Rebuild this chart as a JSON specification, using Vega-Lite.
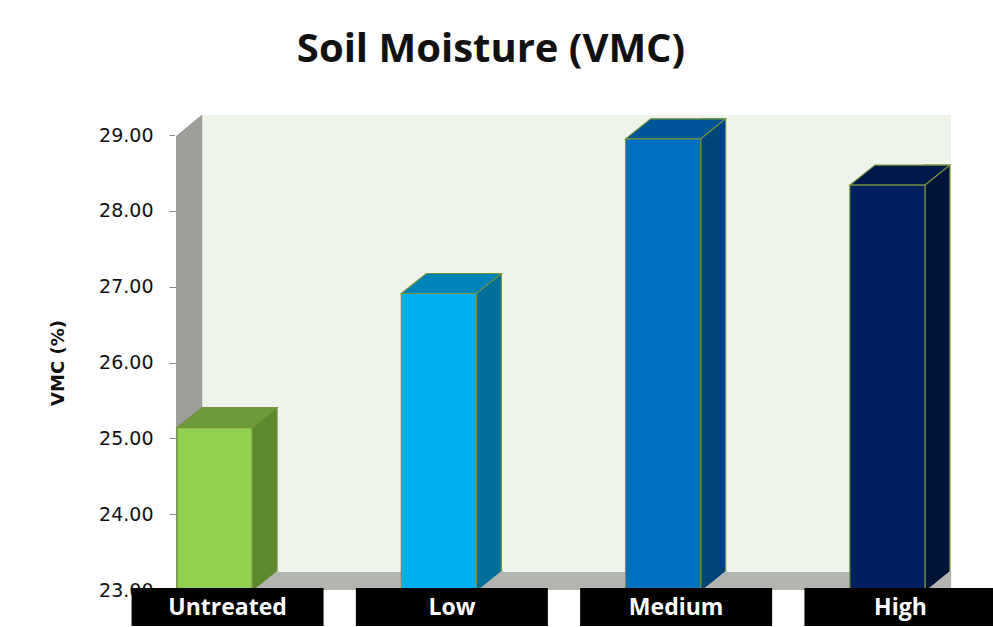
{
  "$schema": "https://vega.github.io/schema/vega-lite/v6.json",
  "autosize": "none",
  "width": 748,
  "height": 455,
  "padding": {"left": 177, "top": 135, "right": 68, "bottom": 37},
  "background": "white",
  "config": {"view": {"stroke": null}},
  "title": {
    "text": "Soil Moisture (VMC)",
    "font": "Open Sans",
    "fontSize": 40,
    "fontWeight": "bold",
    "color": "#111111",
    "anchor": "middle",
    "frame": "group",
    "dx": -60,
    "offset": 44
  },
  "data": {
    "values": [
      {"category": "Untreated", "value": 25.14},
      {"category": "Low", "value": 26.91},
      {"category": "Medium", "value": 28.95},
      {"category": "High", "value": 28.34}
    ]
  },
  "encoding": {
    "x": {
      "field": "category",
      "type": "nominal",
      "sort": ["Untreated", "Low", "Medium", "High"],
      "scale": {"paddingInner": 0.665, "paddingOuter": 0},
      "axis": null
    }
  },
  "layer": [
    {
      "mark": {"type": "rect", "color": "#b3b5b0", "yOffset": -20, "x2Offset": 25},
      "encoding": {
        "x": null,
        "y": {"datum": 29, "type": "quantitative"},
        "y2": {"datum": 23}
      }
    },
    {
      "mark": {"type": "rect", "color": "#eef4ea", "xOffset": 26, "x2Offset": 25, "yOffset": -20, "y2Offset": -18},
      "encoding": {
        "x": null,
        "y": {"datum": 29, "type": "quantitative"},
        "y2": {"datum": 23}
      }
    },
    {
      "mark": {"type": "bar", "color": "#9c9e9a", "width": 26, "xOffset": -25.5, "yOffset": -20},
      "encoding": {
        "x": {"datum": "Untreated"},
        "y": {"datum": 29, "type": "quantitative"},
        "y2": {"datum": 23}
      }
    },
    {
      "mark": {"type": "point", "filled": true, "opacity": 1, "color": "white", "shape": "M-0.05 0.05 L-0.05 -0.85 L1.04 -0.85 Z", "size": 2500, "xOffset": -38},
      "encoding": {
        "x": {"datum": "Untreated"},
        "y": {"datum": 29, "type": "quantitative"}
      }
    },
    {
      "mark": {"type": "point", "filled": true, "opacity": 1, "color": "white", "shape": "M0 0 L1.05 0 L1.05 -0.75 Z", "size": 2500, "xOffset": 37.5},
      "encoding": {
        "x": {"datum": "High"},
        "y": {"datum": 23, "type": "quantitative"}
      }
    },
    {
      "mark": {"type": "bar", "width": 25, "xOffset": 50, "yOffset": -20, "stroke": "#76923c", "strokeWidth": 1.2},
      "encoding": {
        "y": {"field": "value", "type": "quantitative", "scale": {"domain": [23, 29], "zero": false, "nice": false},
          "axis": {
            "title": "VMC (%)",
            "values": [23, 24, 25, 26, 27, 28, 29],
            "format": ".2f",
            "grid": false,
            "domainColor": "#8c8c8c",
            "tickColor": "#8c8c8c",
            "tickSize": 8,
            "labelFont": "DejaVu Sans",
            "labelFontSize": 19,
            "labelColor": "#111111",
            "labelPadding": 16,
            "titleFont": "DejaVu Sans",
            "titleFontSize": 18,
            "titleFontWeight": "bold",
            "titleColor": "#111111",
            "titlePadding": 31
          }
        },
        "y2": {"datum": 23},
        "color": {
          "field": "category", "type": "nominal", "legend": null,
          "scale": {"domain": ["Untreated", "Low", "Medium", "High"], "range": ["#5e8a2e", "#00709b", "#00457a", "#001438"]}
        }
      }
    },
    {
      "mark": {"type": "point", "filled": true, "opacity": 1, "color": "#b3b5b0", "shape": "M0 0.05 L1.05 0.05 L1.05 -0.8 Z", "size": 2500, "xOffset": 37.5},
      "encoding": {
        "y": {"datum": 23, "type": "quantitative"}
      }
    },
    {
      "mark": {"type": "point", "filled": true, "opacity": 1, "stroke": "#76923c", "strokeWidth": 1.2, "shape": "M-1.5 0 L1.5 0 L2.5 -0.8 L-0.5 -0.8 Z", "size": 2500},
      "encoding": {
        "y": {"field": "value", "type": "quantitative"},
        "fill": {
          "field": "category", "type": "nominal", "legend": null,
          "scale": {"domain": ["Untreated", "Low", "Medium", "High"], "range": ["#6d9b3a", "#0084b8", "#005696", "#00184a"]}
        }
      }
    },
    {
      "mark": {"type": "bar", "stroke": "#76923c", "strokeWidth": 1.2},
      "encoding": {
        "y": {"field": "value", "type": "quantitative"},
        "y2": {"datum": 23},
        "color": {
          "field": "category", "type": "nominal", "legend": null,
          "scale": {"domain": ["Untreated", "Low", "Medium", "High"], "range": ["#92d050", "#00b0f0", "#0070c0", "#002060"]}
        }
      }
    },
    {
      "mark": {"type": "bar", "color": "black", "width": 192, "xOffset": 13, "yOffset": -2, "y2Offset": 36},
      "encoding": {
        "y": {"datum": 23, "type": "quantitative"},
        "y2": {"datum": 23}
      }
    },
    {
      "mark": {"type": "text", "color": "white", "font": "Open Sans", "fontSize": 23, "fontWeight": "bold", "xOffset": 13, "yOffset": 18, "baseline": "middle"},
      "encoding": {
        "y": {"datum": 23, "type": "quantitative"},
        "text": {"field": "category"}
      }
    }
  ],
  "resolve": {"scale": {"color": "independent", "fill": "independent"}}
}
